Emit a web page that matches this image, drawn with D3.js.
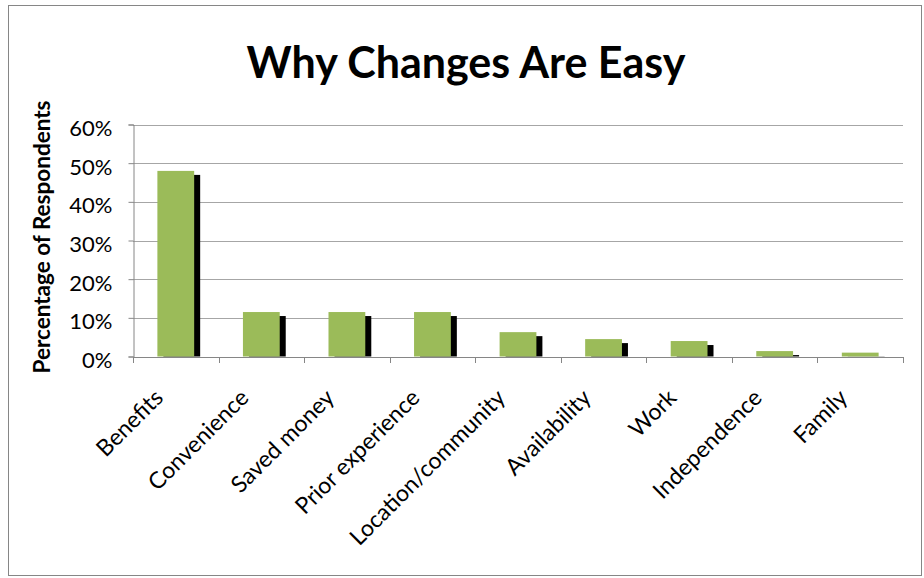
<!DOCTYPE html>
<html>
<head>
<meta charset="utf-8">
<script src="https://cdn.jsdelivr.net/npm/d3@7"></script>
<style>
  html, body { margin: 0; padding: 0; background: #fff; }
  svg { display: block; }
  text { font-family: Lato, "Open Sans", sans-serif; fill: #000; }
</style>
</head>
<body>
<svg id="chart" width="924" height="578"></svg>
<script>
// Survey results: reasons respondents gave for changes being easy
const categories = ["Benefits", "Convenience", "Saved money", "Prior experience",
  "Location/community", "Availability", "Work", "Independence", "Family"];
const shares = [0.48, 0.115, 0.115, 0.115, 0.063, 0.045, 0.04, 0.014, 0.01];
const yTicks = [0, 0.1, 0.2, 0.3, 0.4, 0.5, 0.6];

const W = 924, H = 578;
const margin = { top: 124.5, right: 21, bottom: 221.5, left: 133 };
const svg = d3.select("#chart");

// chart frame
svg.append("rect")
  .attr("x", 8.5).attr("y", 5.5)
  .attr("width", 913).attr("height", 570)
  .attr("fill", "#fff").attr("stroke", "#868686").attr("stroke-width", 1);

const x = d3.scaleBand()
  .domain(categories)
  .range([margin.left, W - margin.right])
  .paddingInner(0.57).paddingOuter(0.285);

const y = d3.scaleLinear()
  .domain([0, 0.6])
  .range([H - margin.bottom, margin.top]);

// horizontal gridlines
svg.append("g")
  .selectAll("line")
  .data(yTicks.filter(d => d > 0))
  .join("line")
  .attr("x1", margin.left).attr("x2", W - margin.right)
  .attr("y1", d => Math.round(y(d)) + 0.5).attr("y2", d => Math.round(y(d)) + 0.5)
  .attr("stroke", "#a6a6a6").attr("stroke-width", 1);

// bar shadows, clipped to the plot area
svg.append("clipPath").attr("id", "plotClip")
  .append("rect")
  .attr("x", margin.left).attr("y", margin.top)
  .attr("width", W - margin.right - margin.left)
  .attr("height", y(0) - margin.top);

svg.append("g").attr("clip-path", "url(#plotClip)")
  .selectAll("rect")
  .data(categories)
  .join("rect")
  .attr("x", (d) => x(d) + 6)
  .attr("y", (d, i) => y(shares[i]) + 4)
  .attr("width", x.bandwidth())
  .attr("height", (d, i) => y(0) - y(shares[i]))
  .attr("fill", "#000");

// bars
svg.append("g")
  .selectAll("rect")
  .data(categories)
  .join("rect")
  .attr("x", d => x(d))
  .attr("y", (d, i) => y(shares[i]))
  .attr("width", x.bandwidth())
  .attr("height", (d, i) => y(0) - y(shares[i]))
  .attr("fill", "#9bbb59");

// y axis
const yAxis = svg.append("g")
  .attr("transform", `translate(${margin.left + 0.5},0)`)
  .call(d3.axisLeft(y).tickValues(yTicks).tickFormat(d3.format(".0%"))
    .tickSizeOuter(0).tickSize(5).tickPadding(16));
yAxis.select(".domain").attr("stroke", "#868686");
yAxis.selectAll(".tick line").attr("stroke", "#868686");
yAxis.selectAll(".tick text")
  .attr("dy", "0.5em")
  .style("font-size", "22px").style("font-family", "Lato, sans-serif");

// x axis line and category dividers
const step = (W - margin.right - margin.left) / categories.length;
const xg = svg.append("g");
xg.append("line")
  .attr("x1", margin.left).attr("x2", W - margin.right)
  .attr("y1", Math.round(y(0)) + 0.5).attr("y2", Math.round(y(0)) + 0.5)
  .attr("stroke", "#868686");
xg.selectAll("line.tk")
  .data(d3.range(categories.length + 1))
  .join("line").attr("class", "tk")
  .attr("x1", i => Math.round(margin.left + i * step) + 0.5)
  .attr("x2", i => Math.round(margin.left + i * step) + 0.5)
  .attr("y1", Math.round(y(0))).attr("y2", Math.round(y(0)) + 6)
  .attr("stroke", "#868686");

// rotated category labels
xg.selectAll("text")
  .data(categories)
  .join("text")
  .attr("transform", d => `translate(${x(d) + x.bandwidth() / 2 - 23},${y(0) + 31}) rotate(-45)`)
  .attr("text-anchor", "end")
  .attr("dy", "0.72em")
  .style("font-size", "23px")
  .text(d => d);

// titles
svg.append("text")
  .attr("x", 466).attr("y", 78)
  .attr("text-anchor", "middle")
  .style("font-size", "43px").style("font-weight", "bold")
  .text("Why Changes Are Easy");

svg.append("text")
  .attr("transform", `translate(50,237) rotate(-90)`)
  .attr("text-anchor", "middle")
  .style("font-size", "22.5px").style("font-weight", "bold")
  .text("Percentage of Respondents");
</script>
</body>
</html>
